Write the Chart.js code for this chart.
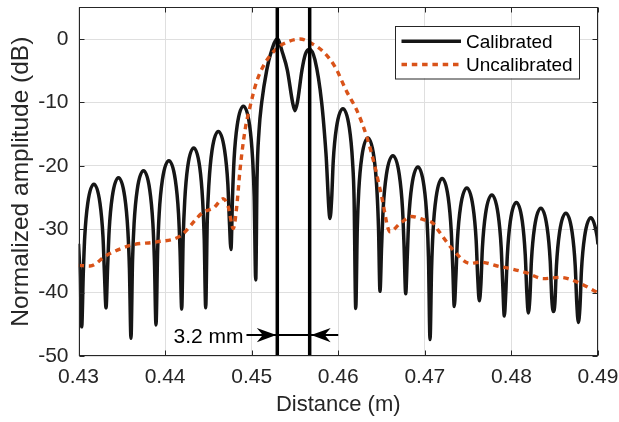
<!DOCTYPE html>
<html>
<head>
<meta charset="utf-8">
<script src="https://cdn.jsdelivr.net/npm/chart.js@4.4.1/dist/chart.umd.min.js"></script>
<style>
html,body{margin:0;padding:0;background:#fff;}
#wrap{width:619px;height:422px;position:relative;}
</style>
</head>
<body>
<div id="wrap"><canvas id="c" width="619" height="422"></canvas></div>
<script>
// ---------- data ----------
const xTicks = [0.43, 0.44, 0.45, 0.46, 0.47, 0.48, 0.49];
const yTicks = [-50, -40, -30, -20, -10, 0];
const seriesNames = ['Calibrated', 'Uncalibrated'];
const axisTitles = ['Distance (m)', 'Normalized amplitude (dB)'];

const calX = [
0.43,0.4302,0.43037,0.43055,0.43072,0.43107,0.43178,0.43248,0.43283,0.43300,
0.43318,0.43336,0.43354,0.4339,0.43462,0.43534,0.4357,0.43588,
0.43606,0.43624,0.43642,0.43678,0.43751,0.43823,0.43859,0.43877,
0.43895,0.43914,0.43932,0.43969,0.44044,0.44118,0.44155,0.44173,
0.44192,0.44209,0.44227,0.44261,0.44331,0.444,0.44434,0.44452,
0.44469,0.44487,0.44506,0.44542,0.44615,0.44688,0.44725,0.44743,
0.44761,0.44779,0.44797,0.44833,0.44904,0.44976,0.45011,0.45029,
0.45047,0.45062,0.45085,0.45116,0.45174,0.4522,0.45296,0.45359,0.45412,0.45474,0.455,0.45527,0.45581,0.4562,0.45668,0.45731,0.45809,0.45858,
0.45905,0.45924,0.45942,0.45979,0.46054,0.46128,0.46165,0.46183,
0.46202,0.4622,0.46237,0.46272,0.46342,0.46412,0.46447,0.46465,
0.46482,0.46501,0.46519,0.46556,0.46631,0.46705,0.46742,0.4676,
0.46779,0.46797,0.46814,0.46849,0.4692,0.4699,0.47025,0.47042,
0.4706,0.47078,0.47095,0.4713,0.472,0.4727,0.47305,0.47323,
0.4734,0.47358,0.47376,0.47412,0.47485,0.47557,0.47593,0.47611,
0.47629,0.47647,0.47665,0.47701,0.47774,0.47846,0.47882,0.479,
0.47918,0.47935,0.47953,0.47987,0.48057,0.48126,0.4816,0.48178,
0.48195,0.48213,0.48231,0.48267,0.4834,0.48412,0.48448,0.48466,
0.48484,0.48502,0.4852,0.48556,0.48629,0.48701,0.48737,0.48755,
0.48773,0.48791,0.48809,0.48845,0.48918,0.4899,0.49
];
const calY = [
-32.3,-37.7,-45.4,-37.1,-31.2,-25.9,-22.9,-25.9,-31.2,-37.1,
-42.4,-36.1,-30.2,-24.9,-21.9,-24.9,-30.2,-36.1,
-47.2,-35.0,-29.1,-23.8,-20.8,-23.8,-29.1,-35.0,
-45.1,-33.4,-27.5,-22.2,-19.2,-22.2,-27.5,-33.4,
-42.6,-31.4,-25.5,-20.2,-17.2,-20.2,-25.5,-31.4,
-42.4,-28.8,-22.9,-17.6,-14.6,-17.6,-22.9,-28.8,
-33.2,-24.8,-18.9,-13.6,-10.6,-13.6,-18.9,-24.8,
-38.0,-22.0,-14.5,-10.0,-4.9,-2.3,0,-2.3,-4.9,-10.1,-11.3,-10.1,-4.9,-2.4,-1.6,-3.3,-10.1,-18.0,
-28.3,-25.2,-19.3,-14.0,-11.0,-14.0,-19.3,-25.2,
-42.5,-29.8,-23.9,-18.6,-15.6,-18.6,-23.9,-29.8,
-39.8,-32.6,-26.7,-21.4,-18.4,-21.4,-26.7,-32.6,
-40.2,-34.4,-28.5,-23.2,-20.2,-23.2,-28.5,-34.4,
-47.4,-36.2,-30.3,-25.0,-22.0,-25.0,-30.3,-36.2,
-42.2,-37.7,-31.8,-26.5,-23.5,-26.5,-31.8,-37.7,
-41.3,-38.8,-32.9,-27.6,-24.6,-27.6,-32.9,-38.8,
-43.7,-40.0,-34.1,-28.8,-25.8,-28.8,-34.1,-40.0,
-43.2,-40.9,-35.0,-29.7,-26.7,-29.7,-35.0,-40.9,
-43.0,-41.7,-35.8,-30.5,-27.5,-30.5,-35.8,-41.7,
-44.7,-42.4,-36.5,-31.2,-28.2,-31.2,-32.4
];

const uncalX = [
0.43,0.43133,0.43326,0.43614,0.43903,0.44172,0.44441,0.44557,0.44672,0.4473,
0.44788,0.44827,0.44865,0.44923,0.44981,0.45058,0.45154,0.45289,0.45423,0.45558,
0.45693,0.45827,0.45963,0.46098,0.46213,0.46329,0.46425,0.46502,0.46598,0.46713,
0.46848,0.46983,0.47098,0.47156,0.47329,0.47522,0.47637,0.47868,0.47984,0.48177,
0.48369,0.48562,0.48754,0.48985,0.49
];
const uncalY = [
-35.7,-35.8,-34.1,-32.5,-32.0,-31.1,-27.3,-26.7,-25.2,-26.5,
-29.9,-26.5,-20.7,-14.4,-10.7,-6.7,-3.8,-1.5,-0.4,0,
-0.7,-2.0,-4.4,-8.3,-11.2,-15.4,-20.2,-24.9,-30.4,-29.1,
-28.0,-28.5,-29.1,-30.2,-33.3,-35.4,-35.2,-35.9,-36.2,-36.9,
-37.8,-37.6,-38.3,-39.9,-40.0
];

const markerX = [0.45296, 0.4567];
const arrowY = -46.7;
const arrowSpan = [0.4494, 0.46];
const arrowLabel = '3.2 mm';

// ---------- styling ----------
const FONT = "'Liberation Sans', Arial, Helvetica, sans-serif";
const AXIS = '#262626';
const BLACK = '#161616';
const ORANGE = '#D95319';
Chart.defaults.font.family = FONT;
Chart.defaults.color = AXIS;

const calData = calX.map((x, i) => ({x, y: calY[i]}));
const uncalData = uncalX.map((x, i) => ({x, y: uncalY[i]}));

const overlay = {
  id: 'overlay',
  afterDatasetsDraw(chart) {
    const {ctx, chartArea: a, scales: {x, y}} = chart;
    ctx.save();
    const yp = y.getPixelForValue(arrowY);
    const x0 = x.getPixelForValue(arrowSpan[0]);
    const m0 = x.getPixelForValue(markerX[0]);
    const m1 = x.getPixelForValue(markerX[1]);
    ctx.fillStyle = '#000';
    function head(tip, dir) {
      const L = 19.5, W = 7.2, N = 13.5;
      ctx.beginPath();
      ctx.moveTo(tip, yp);
      ctx.lineTo(tip - dir * L, yp - W);
      ctx.lineTo(tip - dir * N, yp);
      ctx.lineTo(tip - dir * L, yp + W);
      ctx.closePath();
      ctx.fill();
    }
    head(m0 - 1, 1);
    head(m1 + 1.5, -1);
    ctx.font = '21px ' + FONT;
    ctx.textAlign = 'right';
    ctx.textBaseline = 'alphabetic';
    ctx.fillStyle = '#000';
    ctx.fillText(arrowLabel, x0 - 3, yp + 7.6);

    ctx.strokeStyle = AXIS;
    ctx.lineWidth = 1;
    const L = Math.round(a.left) + 0.5, R = Math.round(a.right) - 0.5;
    const T = Math.round(a.top) + 0.5, B = Math.round(a.bottom) - 0.5;
    ctx.strokeRect(L, T, R - L, B - T);
    ctx.beginPath();
    xTicks.forEach(v => {
      const p = Math.round(x.getPixelForValue(v)) + 0.5;
      ctx.moveTo(p, B); ctx.lineTo(p, B - 5);
      ctx.moveTo(p, T); ctx.lineTo(p, T + 5);
    });
    yTicks.forEach(v => {
      const p = Math.round(y.getPixelForValue(v)) + 0.5;
      ctx.moveTo(L, p); ctx.lineTo(L + 5, p);
      ctx.moveTo(R, p); ctx.lineTo(R - 5, p);
    });
    ctx.stroke();
    ctx.restore();
  },
  afterDraw(chart) {
    const {ctx, chartArea: a} = chart;
    ctx.save();
    const bw = 184, bh = 52.5;
    const bx = a.right - 19 - bw, by = a.top + 18.5;
    ctx.fillStyle = '#fff';
    ctx.fillRect(bx, by, bw, bh);
    ctx.strokeStyle = AXIS;
    ctx.lineWidth = 1;
    ctx.strokeRect(Math.round(bx) + 0.5, Math.round(by) + 0.5, bw, bh);
    const rows = [
      {label: seriesNames[0], color: BLACK, dash: []},
      {label: seriesNames[1], color: ORANGE, dash: [5.5, 4.8]}
    ];
    ctx.font = '19px ' + FONT;
    ctx.textAlign = 'left';
    ctx.textBaseline = 'middle';
    rows.forEach((r, i) => {
      const ry = by + 15.5 + i * 23.2;
      ctx.beginPath();
      ctx.setLineDash(r.dash);
      ctx.strokeStyle = r.color;
      ctx.lineWidth = 3.4;
      ctx.moveTo(bx + 6.5, ry);
      ctx.lineTo(bx + 66, ry);
      ctx.stroke();
      ctx.setLineDash([]);
      ctx.fillStyle = '#000';
      ctx.fillText(r.label, bx + 71, ry + 1);
    });
    ctx.restore();
  }
};

new Chart(document.getElementById('c'), {
  type: 'line',
  data: {
    datasets: [
      {label: 'm1', data: [{x: markerX[0], y: 5}, {x: markerX[0], y: -50}], borderColor: '#000', borderWidth: 3.5, pointRadius: 0, tension: 0, order: 0},
      {label: 'm2', data: [{x: markerX[1], y: 5}, {x: markerX[1], y: -50}], borderColor: '#000', borderWidth: 3.5, pointRadius: 0, tension: 0, order: 0},
      {label: 'arrow', data: [{x: arrowSpan[0], y: arrowY}, {x: arrowSpan[1], y: arrowY}], borderColor: '#000', borderWidth: 2, pointRadius: 0, tension: 0, order: 0},
      {label: seriesNames[1], data: uncalData, borderColor: ORANGE, borderWidth: 3.4, borderDash: [5.5, 4.8], pointRadius: 0, cubicInterpolationMode: 'monotone', order: 1},
      {label: seriesNames[0], data: calData, borderColor: BLACK, borderWidth: 3.5, pointRadius: 0, cubicInterpolationMode: 'monotone', order: 2}
    ]
  },
  options: {
    responsive: false,
    animation: false,
    devicePixelRatio: 1,
    events: [],
    layout: {padding: {left: 0, right: 21, top: 7.3, bottom: 0}},
    plugins: {legend: {display: false}, tooltip: {enabled: false}},
    scales: {
      x: {
        type: 'linear', min: 0.43, max: 0.49,
        afterBuildTicks: s => { s.ticks = xTicks.map(v => ({value: v})); },
        afterFit: s => { s.height = 66; s.paddingLeft = 0; s.paddingRight = 0; },
        ticks: {padding: 8.5, font: {size: 21}, color: AXIS, maxRotation: 0, autoSkip: false,
                callback: v => v.toFixed(2)},
        grid: {color: '#dfdfdf', lineWidth: 1, drawTicks: false},
        border: {display: false},
        title: {display: true, text: axisTitles[0], font: {size: 22, lineHeight: 1.2}, color: AXIS, padding: {top: 0, bottom: 4}}
      },
      y: {
        type: 'linear', min: -50, max: 5,
        afterBuildTicks: s => { s.ticks = yTicks.map(v => ({value: v})); },
        afterFit: s => { s.width = 78.5; s.paddingTop = 0; s.paddingBottom = 0; },
        ticks: {padding: 10, font: {size: 21}, color: AXIS, autoSkip: false,
                callback: v => String(v)},
        grid: {color: '#dfdfdf', lineWidth: 1, drawTicks: false},
        border: {display: false},
        title: {display: true, text: axisTitles[1], font: {size: 24.5, lineHeight: 1.2}, color: AXIS, padding: {top: 7, bottom: 0}}
      }
    }
  },
  plugins: [overlay]
});
</script>
</body>
</html>
